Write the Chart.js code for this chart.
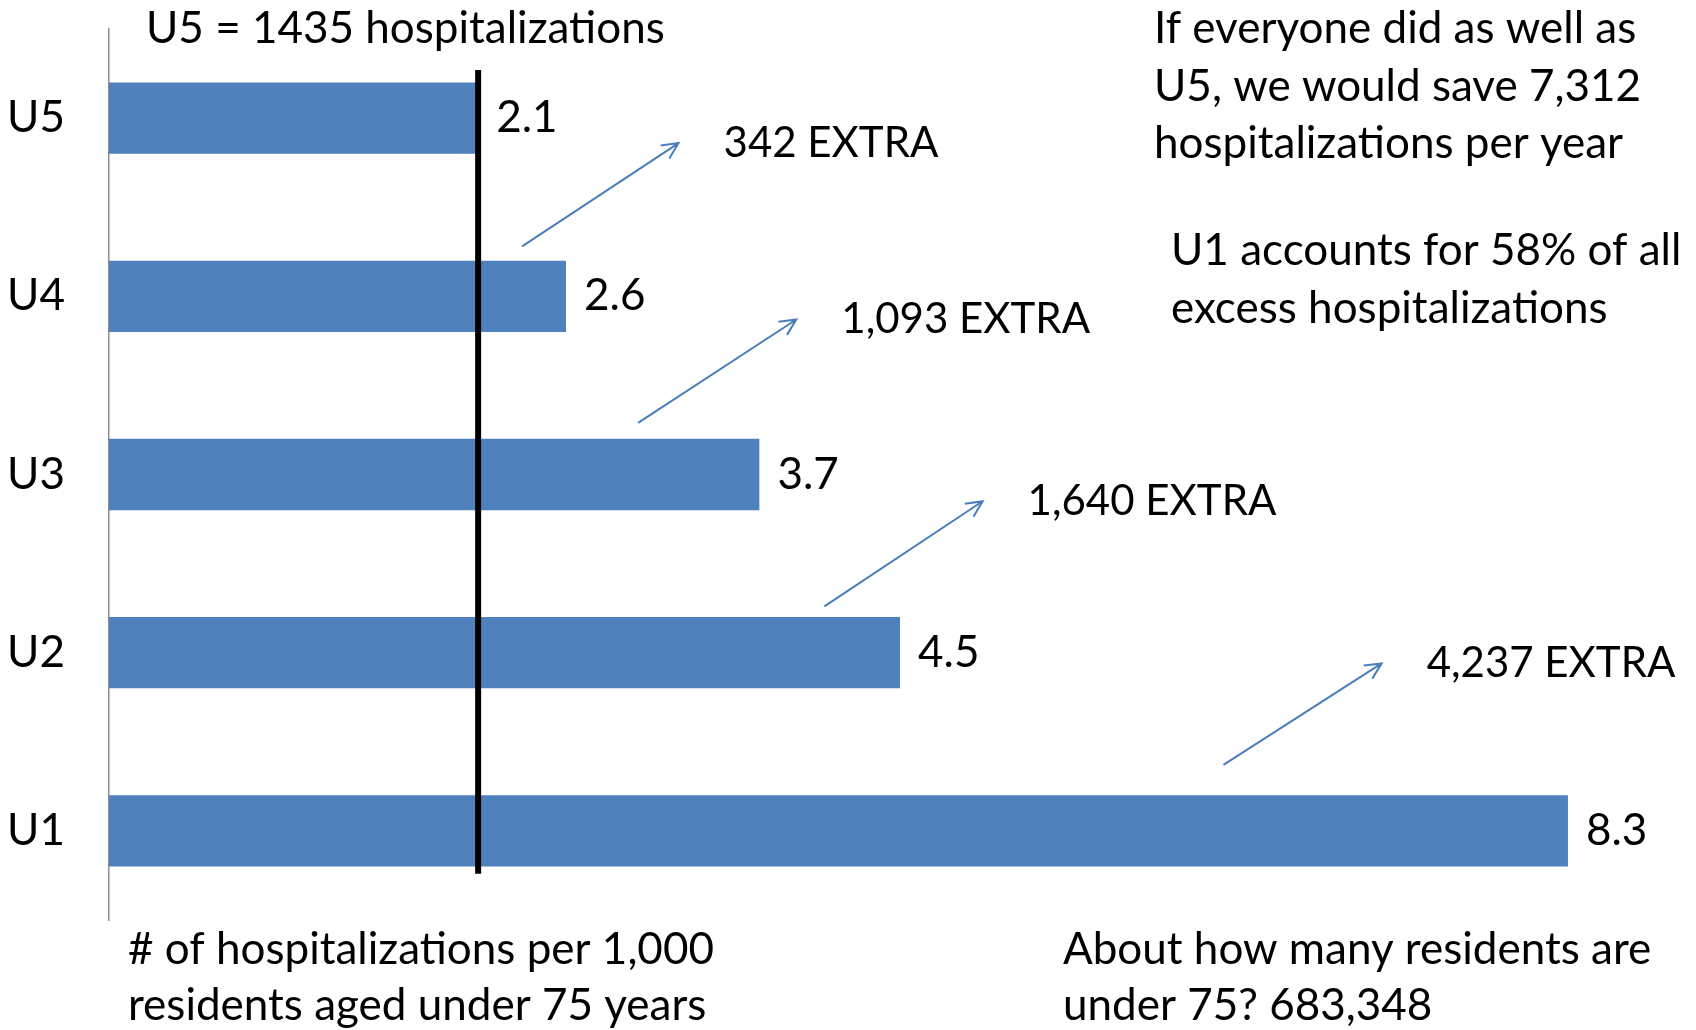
<!DOCTYPE html>
<html>
<head>
<meta charset="utf-8">
<script src="https://cdn.jsdelivr.net/npm/chart.js@4"></script>
<style>
  body { margin: 0; background: #fff; }
  #wrap { width: 1696px; height: 1030px; position: relative; }
</style>
</head>
<body>
<div id="wrap"><canvas id="hospChart"></canvas></div>
<script>
const categories = ['U5', 'U4', 'U3', 'U2', 'U1'];
const rates = [2.1, 2.6, 3.7, 4.5, 8.3];
const extraLabels = ['342 EXTRA', '1,093 EXTRA', '1,640 EXTRA', '4,237 EXTRA'];

// arrow tail / head in data units (x = rate, y = category index)
const arrowTails = [[2.35, 0.72], [3.01, 1.71], [4.07, 2.74], [6.34, 3.63]];
const arrowHeads = [[3.24, 0.14], [3.91, 1.13], [4.97, 2.15], [7.24, 3.06]];

const topNote = 'U5 = 1435 hospitalizations';
const savingNote = ['If everyone did as well as', 'U5, we would save 7,312', 'hospitalizations per year'];
const shareNote = ['U1 accounts for 58% of all', 'excess hospitalizations'];
const axisNote = ['# of hospitalizations per 1,000', 'residents aged under 75 years'];
const residentsNote = ['About how many residents are', 'under 75? 683,348'];

const FONT = '44px Lato';
const BLUE = '#4F81BD';

const annotations = {
  id: 'annotations',
  afterDatasetsDraw(chart) {
    const ctx = chart.ctx;
    const x = chart.scales.x;
    const y = chart.scales.y;

    // benchmark line at U5 rate
    ctx.save();
    ctx.strokeStyle = '#000';
    ctx.lineWidth = 6;
    ctx.beginPath();
    ctx.moveTo(x.getPixelForValue(rates[0]), y.getPixelForValue(-0.27));
    ctx.lineTo(x.getPixelForValue(rates[0]), y.getPixelForValue(4.24));
    ctx.stroke();

    ctx.font = FONT;
    ctx.fillStyle = '#000';
    ctx.textBaseline = 'middle';
    ctx.textAlign = 'left';

    // value labels
    chart.getDatasetMeta(0).data.forEach((bar, i) => {
      ctx.fillText(rates[i].toFixed(1), bar.x + 18, bar.y);
    });

    // free text notes
    ctx.fillText(topNote, 146, 29);
    savingNote.forEach((s, i) => ctx.fillText(s, 1154, 29 + i * 57.5));
    shareNote.forEach((s, i) => ctx.fillText(s, 1171, 251 + i * 57.5));
    axisNote.forEach((s, i) => ctx.fillText(s, 128, 950 + i * 56));
    residentsNote.forEach((s, i) => ctx.fillText(s, 1063, 950 + i * 56));

    // arrows + EXTRA labels
    ctx.font = '42px Lato';
    ctx.strokeStyle = '#4A7EBB';
    ctx.lineWidth = 2;
    arrowTails.forEach((t, i) => {
      const x0 = x.getPixelForValue(t[0]), y0 = y.getPixelForValue(t[1]);
      const x1 = x.getPixelForValue(arrowHeads[i][0]), y1 = y.getPixelForValue(arrowHeads[i][1]);
      const ang = Math.atan2(y1 - y0, x1 - x0);
      ctx.beginPath();
      ctx.moveTo(x0, y0);
      ctx.lineTo(x1, y1);
      ctx.moveTo(x1 - 18 * Math.cos(ang - 0.45), y1 - 18 * Math.sin(ang - 0.45));
      ctx.lineTo(x1, y1);
      ctx.lineTo(x1 - 18 * Math.cos(ang + 0.45), y1 - 18 * Math.sin(ang + 0.45));
      ctx.stroke();
      ctx.fillText(extraLabels[i], x1 + 45, y1);
    });
    ctx.restore();
  }
};

new Chart(document.getElementById('hospChart'), {
  type: 'bar',
  data: {
    labels: categories,
    datasets: [{
      data: rates,
      backgroundColor: BLUE,
      borderWidth: 0,
      categoryPercentage: 1,
      barPercentage: 0.4
    }]
  },
  options: {
    indexAxis: 'y',
    responsive: true,
    maintainAspectRatio: false,
    animation: false,
    layout: { padding: { top: 29, bottom: 110, right: 5, left: 0 } },
    plugins: {
      legend: { display: false },
      tooltip: { enabled: false }
    },
    scales: {
      x: {
        display: false,
        min: 0,
        max: 9
      },
      y: {
        grid: { display: false, drawTicks: false },
        border: { display: true, color: '#8c8c8c', width: 1.5 },
        ticks: {
          color: '#000',
          font: { family: 'Lato', size: 44 },
          padding: 44
        },
        afterFit(scale) {
          scale.width = 109;
          scale.paddingTop = 0;
          scale.paddingBottom = 0;
        }
      }
    }
  },
  plugins: [annotations]
});
</script>
</body>
</html>
